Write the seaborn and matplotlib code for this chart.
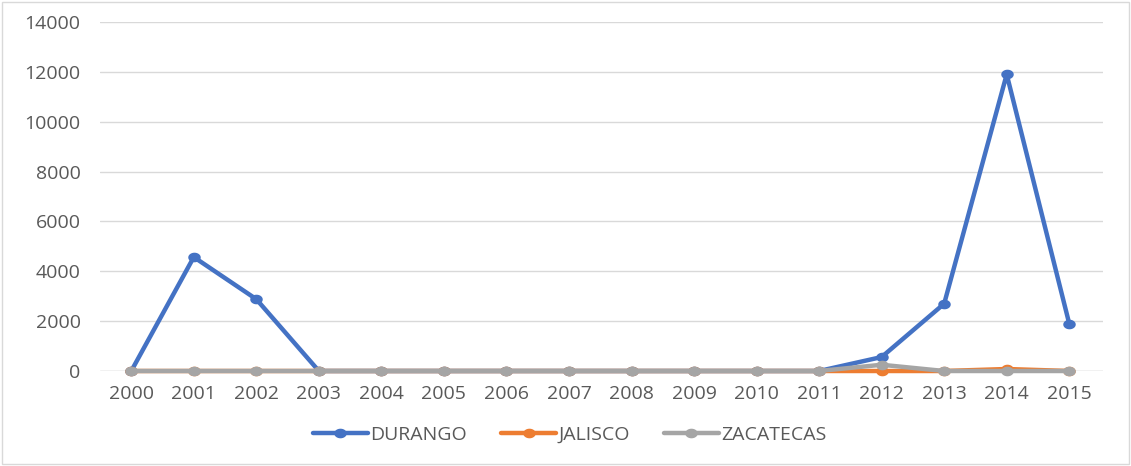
import matplotlib
matplotlib.use("Agg")
import matplotlib.pyplot as plt
import seaborn as sns
import pandas as pd
import numpy as np
from matplotlib.patches import Rectangle
from matplotlib.path import Path

years = list(range(2000, 2016))
durango = [0, 4570, 2880, 0, 0, 0, 0, 0, 0, 0, 0, 0, 560, 2700, 11900, 1900]
jalisco = [0, 0, 0, 0, 0, 0, 0, 0, 0, 0, 0, 0, 0, 0, 80, 0]
zacatecas = [0, 0, 0, 0, 0, 0, 0, 0, 0, 0, 0, 0, 250, 0, 0, 0]
series_names = ["DURANGO", "JALISCO", "ZACATECAS"]
y_ticks = [0, 2000, 4000, 6000, 8000, 10000, 12000, 14000]

colors = ["#4472C4", "#ED7D31", "#A5A5A5"]

df = pd.DataFrame({
    "year": years * 3,
    "value": durango + jalisco + zacatecas,
    "state": sum([[n] * len(years) for n in series_names], []),
})

# slightly wide oval marker
theta = np.linspace(0, 2 * np.pi, 49)
oval = Path(np.column_stack([1.3 * np.cos(theta), np.sin(theta)]), closed=True)

sns.set_theme(style="white")
plt.rcParams["font.family"] = ["Open Sans", "DejaVu Sans"]

fig = plt.figure(figsize=(11.31, 4.66), dpi=100)
ax = fig.add_axes([100 / 1131, 1 - 371 / 466, 1003 / 1131, 349 / 466])

sns.lineplot(data=df, x="year", y="value", hue="state", hue_order=series_names,
             palette=colors, marker=oval, markersize=9, markeredgewidth=0,
             linewidth=3.2, ax=ax, legend=True, clip_on=False)

ax.set_xlim(1999.5, 2015.54)
ax.set_ylim(0, 14000)
ax.set_xticks(years)
ax.set_xticklabels([str(y) for y in years])
ax.set_yticks(y_ticks)
ax.set_yticklabels([str(t) for t in y_ticks])
ax.set_xlabel("")
ax.set_ylabel("")
ax.yaxis.grid(True, color="#D9D9D9", linewidth=1)
ax.set_axisbelow(True)
for s in ax.spines.values():
    s.set_visible(False)
ax.axhline(0, color="#D9D9D9", linewidth=1, zorder=0)
ax.tick_params(axis="both", length=0, labelsize=14, labelcolor="#595959")
ax.tick_params(axis="y", pad=14)
ax.tick_params(axis="x", pad=10)

handles, labels = ax.get_legend_handles_labels()
ax.legend(handles, labels, loc="center", bbox_to_anchor=(570 / 1131, 1 - 435 / 466),
          bbox_transform=fig.transFigure, ncol=3, frameon=False, fontsize=14,
          handlelength=2.8, columnspacing=1.75, handletextpad=0.15,
          labelcolor="#595959")

fig.patches.append(Rectangle((2 / 1131, 2 / 466), 1 - 4 / 1131, 1 - 4 / 466,
                             transform=fig.transFigure, fill=False,
                             edgecolor="#D9D9D9", linewidth=1))

fig.savefig("out.png", dpi=100)
